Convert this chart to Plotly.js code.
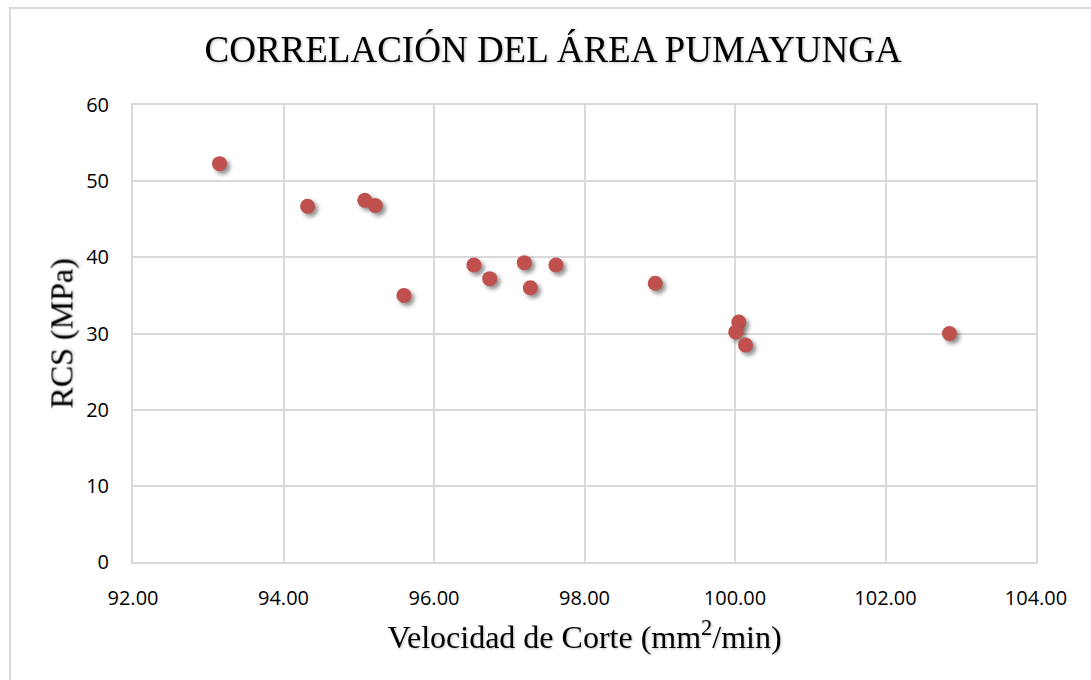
<!DOCTYPE html>
<html>
<head>
<meta charset="utf-8">
<script src="https://cdn.plot.ly/plotly-3.0.1.min.js"></script>
<style>
  html, body { margin: 0; padding: 0; background: #ffffff; }
  #wrap { position: relative; width: 1091px; height: 680px; overflow: hidden; }
  #chart { position: absolute; left: 0; top: 0; width: 1091px; height: 680px; }
  #frame { position: absolute; left: 9px; top: 7px; width: 1100px; height: 700px; border: 2px solid #d9d9d9; pointer-events: none; box-sizing: border-box; }
  .scatterlayer .point { filter: drop-shadow(3px 3px 2px rgba(0,0,0,0.45)); }
  .gtitle, .xtitle, .ytitle { filter: drop-shadow(1px 1px 1px rgba(0,0,0,0.25)); }
</style>
</head>
<body>
<div id="wrap">
  <div id="chart"></div>
  <div id="frame"></div>
</div>
<script>
// Velocidad de Corte (mm2/min)
const velocidad = [93.15, 94.32, 95.08, 95.22, 95.60, 96.53, 96.74, 97.20, 97.28, 97.62, 98.94, 100.05, 100.01, 100.14, 102.85];
// RCS (MPa)
const rcs = [52.3, 46.7, 47.5, 46.8, 35.0, 39.0, 37.2, 39.3, 36.0, 39.0, 36.6, 31.5, 30.2, 28.5, 30.0];
const xTicks = [92, 94, 96, 98, 100, 102, 104];
const xTickLabels = ["92.00", "94.00", "96.00", "98.00", "100.00", "102.00", "104.00"];
const yTicks = [0, 10, 20, 30, 40, 50, 60];

const trace = {
  x: velocidad,
  y: rcs,
  type: "scatter",
  mode: "markers",
  marker: { color: "#c0504d", size: 15, line: { width: 0 } },
  hoverinfo: "x+y",
  showlegend: false
};

const tickFont = { family: "Open Sans, Liberation Sans, sans-serif", size: 20, color: "#000000" };
const serif = "Liberation Serif, Times New Roman, serif";

const layout = {
  width: 1091,
  height: 680,
  paper_bgcolor: "#ffffff",
  plot_bgcolor: "#ffffff",
  margin: { l: 133, r: 55, t: 105, b: 118 },
  title: {
    text: "CORRELACIÓN DEL ÁREA PUMAYUNGA",
    font: { family: serif, size: 37, color: "#000000" },
    x: 0.507, xref: "container", xanchor: "center",
    y: 0.928, yref: "container", yanchor: "middle"
  },
  xaxis: {
    range: [92, 104],
    tickvals: xTicks,
    ticktext: xTickLabels,
    tickfont: tickFont,
    ticks: "",
    ticklabelstandoff: 17,
    showgrid: true,
    gridcolor: "#d9d9d9",
    gridwidth: 2,
    zeroline: false,
    showline: true,
    linecolor: "#d9d9d9",
    linewidth: 2,
    mirror: true,
    title: { text: "Velocidad de Corte (mm<sup>2</sup>/min)", font: { family: serif, size: 32, color: "#000000" }, standoff: 16 }
  },
  yaxis: {
    range: [0, 60],
    tickvals: yTicks,
    tickfont: tickFont,
    ticks: "",
    ticklabelstandoff: 18,
    showgrid: true,
    gridcolor: "#d9d9d9",
    gridwidth: 2,
    zeroline: false,
    showline: true,
    linecolor: "#d9d9d9",
    linewidth: 2,
    mirror: true,
    title: { text: "RCS (MPa)", font: { family: serif, size: 32, color: "#000000" }, standoff: 4 }
  }
};

Plotly.newPlot("chart", [trace], layout, { displayModeBar: false, staticPlot: false });
</script>
</body>
</html>
